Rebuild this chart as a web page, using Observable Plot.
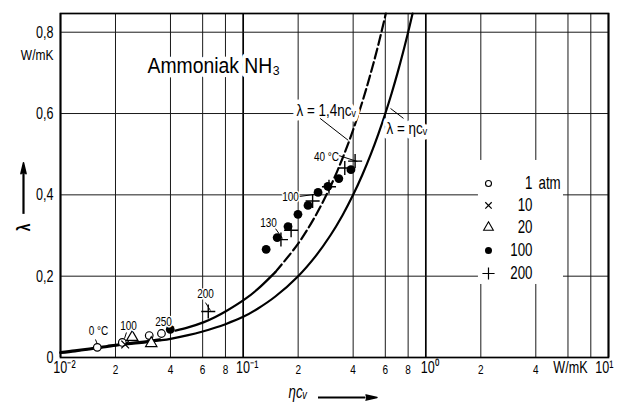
<!DOCTYPE html>
<html><head><meta charset="utf-8">
<script src="https://cdn.jsdelivr.net/npm/d3@7"></script>
<script src="https://cdn.jsdelivr.net/npm/@observablehq/plot@0.6"></script>
<style>
body{margin:0;background:#fff;}
#chart svg{display:block;}
</style></head><body><div id="chart"></div>
<script>
// ---- axes / grid ----
const xGridMajor = [0.01, 0.1, 1, 10];
const xGridMinor = [0.02, 0.04, 0.06, 0.08, 0.2, 0.4, 0.6, 0.8, 2, 4, 6, 8];
const yGrid = [0.2, 0.4, 0.6, 0.8];
const xTickValues = [0.02, 0.04, 0.06, 0.08, 0.2, 0.4, 0.6, 0.8, 2, 4];
const xTickLabels = ["2", "4", "6", "8", "2", "4", "6", "8", "2", "4"];
const xDecadeValues = [0.01, 0.1, 1];
const xDecadeLabels = ["10⁻²", "10⁻¹", "10⁰"];
const xLastDecade = 10;
const xLastDecadeLabel = "10¹";
const xUnitLabel = "W/mK";
const yTickValues = [0, 0.2, 0.4, 0.6, 0.8];
const yTickLabels = ["0", "0,2", "0,4", "0,6", "0,8"];
const yUnitLabel = "W/mK";

// ---- curves ----
const lowX = [0.01, 0.012, 0.014, 0.016, 0.018, 0.02, 0.025, 0.03, 0.035, 0.04, 0.05, 0.06, 0.07, 0.08, 0.1, 0.12, 0.15, 0.2, 0.25, 0.3, 0.35, 0.4, 0.45, 0.5, 0.55, 0.6, 0.65, 0.7, 0.75, 0.8, 0.846];
const lowY = [0.011, 0.015, 0.019, 0.023, 0.026, 0.029, 0.034, 0.038, 0.042, 0.046, 0.055, 0.064, 0.073, 0.082, 0.1, 0.12, 0.15, 0.2, 0.25, 0.3, 0.35, 0.4, 0.45, 0.5, 0.55, 0.6, 0.65, 0.7, 0.75, 0.8, 0.846];
const highSolidX = [0.0426, 0.05, 0.061, 0.07, 0.08, 0.1027, 0.12, 0.15];
const highSolidY = [0.066, 0.074, 0.087, 0.099, 0.113, 0.144, 0.168, 0.21];
const highDashX = [0.15, 0.2, 0.25, 0.3, 0.35, 0.4, 0.45, 0.5, 0.55, 0.604];
const highDashY = [0.21, 0.28, 0.35, 0.42, 0.49, 0.56, 0.63, 0.7, 0.77, 0.846];

// ---- measurements ----
const atm1X = [0.0159, 0.0218, 0.0306, 0.0357];
const atm1Y = [0.025, 0.037, 0.054, 0.059];
const atm10X = [0.0226];
const atm10Y = [0.032];
const atm20X = [0.0247, 0.0314];
const atm20Y = [0.05, 0.035];
const atm100X = [0.0399, 0.1336, 0.1535, 0.176, 0.1995, 0.2265, 0.257, 0.291, 0.334, 0.389];
const atm100Y = [0.069, 0.266, 0.295, 0.322, 0.352, 0.374, 0.406, 0.421, 0.44, 0.462];
const atm200X = [0.0644, 0.161, 0.183, 0.24, 0.295, 0.36, 0.41];
const atm200Y = [0.113, 0.29, 0.313, 0.385, 0.42, 0.466, 0.483];

// ---- annotations ----
const noteText = ["0 °C", "100", "250", "200", "130", "100", "40 °C"];
const noteX = [0.01614, 0.02356, 0.03664, 0.0622, 0.1376, 0.1816, 0.2858];
const noteY = [0.064, 0.0787, 0.0861, 0.155, 0.332, 0.3936, 0.492];
const leadX1 = [0.01554, 0.02296, 0.0362, 0.0622, 0.1503, 0.2032, 0.3325, 0.2638, 0.6406];
const leadY1 = [0.0443, 0.0615, 0.0689, 0.135, 0.317, 0.396, 0.497, 0.588, 0.6125];
const leadX2 = [0.01594, 0.02241, 0.03664, 0.0662, 0.1642, 0.2449, 0.4217, 0.3763, 0.7548];
const leadY2 = [0.032, 0.0467, 0.059, 0.1156, 0.2927, 0.401, 0.482, 0.534, 0.588];
const curveLabelText = ["λ = 1,4ηcᵥ", "λ = ηcᵥ"];
const curveLabelX = [0.1959, 0.609];
const curveLabelY = [0.6076, 0.563];
const xTitleText = "ηcᵥ";
const titleText = "Ammoniak NH₃";
const titlePos = {x: 0.02995, y: 0.718};

// ---- legend ----
const legendNumbers = ["1", "10", "20", "100", "200"];
const legendUnit = "atm";
const legendRowY = [0.428, 0.374, 0.320, 0.263, 0.2066];
const legendSymbolX = 2.203;
const legendTextX = 3.837;
const legendBox = {x1: 1.941, x2: 5.67, y1: 0.1796, y2: 0.4846};

const F = "'Liberation Sans','Arial',sans-serif";
const idx = a => a.map((_, i) => i);
const pts = (X, Y) => X.map((x, i) => ({x, y: Y[i]}));
const halo = {stroke: "white", fill: "black"};

const plot = Plot.plot({
  width: 617, height: 405,
  marginLeft: 60, marginRight: 9, marginTop: 13, marginBottom: 48,
  x: {type: "log", domain: [0.01, 10], axis: null},
  y: {domain: [0, 0.846], axis: null},
  style: {fontFamily: F, fontSize: "15px", background: "white", color: "black", overflow: "visible"},
  marks: [
    Plot.ruleX(xGridMinor, {stroke: "#1a1a1a", strokeWidth: 1}),
    Plot.ruleX(xGridMajor, {stroke: "#000", strokeWidth: 1.7}),
    Plot.ruleY(yGrid, {stroke: "#1a1a1a", strokeWidth: 1}),
    Plot.rect([legendBox], {x1: "x1", x2: "x2", y1: "y1", y2: "y2", fill: "white"}),
    Plot.text([titlePos], {x: "x", y: "y", text: () => titleText, textAnchor: "start", fontSize: 22, ...halo, strokeWidth: 9}),
    // curves
    Plot.line(pts(lowX, lowY), {x: "x", y: "y", curve: "catmull-rom", strokeWidth: 2.2}),
    Plot.line(pts(lowX.slice(0, 9), lowY.slice(0, 9).map(v => v + 0.002)), {x: "x", y: "y", curve: "catmull-rom", strokeWidth: 2.5}),
    Plot.line(pts(highSolidX, highSolidY), {x: "x", y: "y", curve: "catmull-rom", strokeWidth: 2.2}),
    Plot.line(pts(highDashX, highDashY), {x: "x", y: "y", curve: "catmull-rom", strokeWidth: 2.2, strokeDasharray: "10,4"}),
    // curve labels with white halo
    Plot.text(idx(curveLabelText), {x: i => curveLabelX[i], y: i => curveLabelY[i], text: i => curveLabelText[i], fontSize: 16, ...halo, strokeWidth: 9, textAnchor: "start"}),
    // leaders
    Plot.link(idx(leadX1), {x1: i => leadX1[i], y1: i => leadY1[i], x2: i => leadX2[i], y2: i => leadY2[i], strokeWidth: 1}),
    // measurements
    Plot.dot(pts(atm1X, atm1Y), {x: "x", y: "y", symbol: "circle", r: 3.8, fill: "white", stroke: "black", strokeWidth: 1.2}),
    Plot.dot(pts(atm10X, atm10Y), {x: "x", y: "y", symbol: "times", r: 3.6, stroke: "black", strokeWidth: 1.3}),
    Plot.dot(pts(atm20X, atm20Y), {x: "x", y: "y", symbol: "triangle", r: 4.2, fill: "white", stroke: "black", strokeWidth: 1.2}),
    Plot.dot(pts(atm100X, atm100Y), {x: "x", y: "y", symbol: "circle", r: 4.4, fill: "black"}),
    Plot.dot(pts(atm200X, atm200Y), {x: "x", y: "y", symbol: "plus", r: 4.6, stroke: "black", strokeWidth: 1.4}),
    // annotations
    Plot.text(idx(noteText), {x: i => noteX[i], y: i => noteY[i], text: i => noteText[i], fontSize: 12.5, ...halo, strokeWidth: 3}),
    // legend
    Plot.dot([legendRowY[0]], {x: legendSymbolX, y: d => d, symbol: "circle", r: 3, fill: "white", stroke: "black", strokeWidth: 1.1}),
    Plot.dot([legendRowY[1]], {x: legendSymbolX, y: d => d, symbol: "times", r: 3, stroke: "black", strokeWidth: 1.2}),
    Plot.dot([legendRowY[2]], {x: legendSymbolX, y: d => d, symbol: "triangle", r: 3.6, fill: "white", stroke: "black", strokeWidth: 1.1}),
    Plot.dot([legendRowY[3]], {x: legendSymbolX, y: d => d, symbol: "circle", r: 3.5, fill: "black"}),
    Plot.dot([legendRowY[4]], {x: legendSymbolX, y: d => d, symbol: "plus", r: 4, stroke: "black", strokeWidth: 1.2}),
    Plot.text(idx(legendNumbers), {x: legendTextX, y: i => legendRowY[i], text: i => legendNumbers[i], textAnchor: "end", fontSize: 18}),
    Plot.text([legendUnit], {x: legendTextX, y: legendRowY[0], text: d => d, textAnchor: "start", dx: 6, fontSize: 18}),
    // y tick labels
    Plot.text(yTickValues, {y: d => d, text: (d, i) => yTickLabels[i], frameAnchor: "left", textAnchor: "end", dx: -7, fontSize: 17}),
    Plot.text([yUnitLabel], {y: 0.743, text: d => d, frameAnchor: "left", textAnchor: "end", dx: -7, fontSize: 15}),
    // x tick labels
    Plot.text(xTickValues, {x: d => d, text: (d, i) => xTickLabels[i], frameAnchor: "bottom", dy: 16, fontSize: 12.5}),
    Plot.text(xDecadeValues, {x: d => d, text: (d, i) => xDecadeLabels[i], frameAnchor: "bottom", dy: 15, dx: 4, fontSize: 17}),
    Plot.text([xLastDecade], {x: d => d, text: () => xLastDecadeLabel, frameAnchor: "bottom", dy: 15, dx: 5, textAnchor: "end", fontSize: 17}),
    Plot.text([xUnitLabel], {x: 6.19, text: d => d, frameAnchor: "bottom", dy: 15, fontSize: 17}),
    // axis titles
    Plot.text(["λ"], {x: 0.006272, y: 0.32, text: d => d, rotate: -90, fontSize: 19, fontWeight: "bold"}),
    Plot.ruleX([0.006272], {y1: 0.352, y2: 0.452, strokeWidth: 2.2}),
    Plot.vector([0.452], {x: 0.006272, y: d => d, length: 11, rotate: 0, shape: "spike", r: 2.6, fill: "black", stroke: "black", anchor: "start"}),
    Plot.text([xTitleText], {x: 0.1771, text: d => d, frameAnchor: "bottom", dy: 40, textAnchor: "start", fontSize: 18, fontStyle: "italic"}),
    Plot.ruleY([-0.0984], {x1: 0.2585, x2: 0.47, strokeWidth: 2.2}),
    Plot.vector([0.47], {x: d => d, y: -0.0984, length: 11, rotate: 90, shape: "spike", r: 2.6, fill: "black", stroke: "black", anchor: "start"}),
    Plot.frame({stroke: "black", strokeWidth: 1.7})
  ]
});
document.getElementById("chart").append(plot);

// ---- condense the lettering like the original DIN-style font (horizontal scale around each anchor) ----
d3.select(plot).selectAll("text").each(function () {
  const el = this;
  const fs = parseFloat(getComputedStyle(el).fontSize);
  const isCurveLabel = el.textContent.startsWith("λ =");
  const f = isCurveLabel ? 0.84 : fs >= 20 ? 0.88 : fs >= 16 ? 0.74 : 0.8;
  const t = el.getAttribute("transform") || "";
  el.setAttribute("transform", `${t} scale(${f},1)`.trim());
});
</script></body></html>
